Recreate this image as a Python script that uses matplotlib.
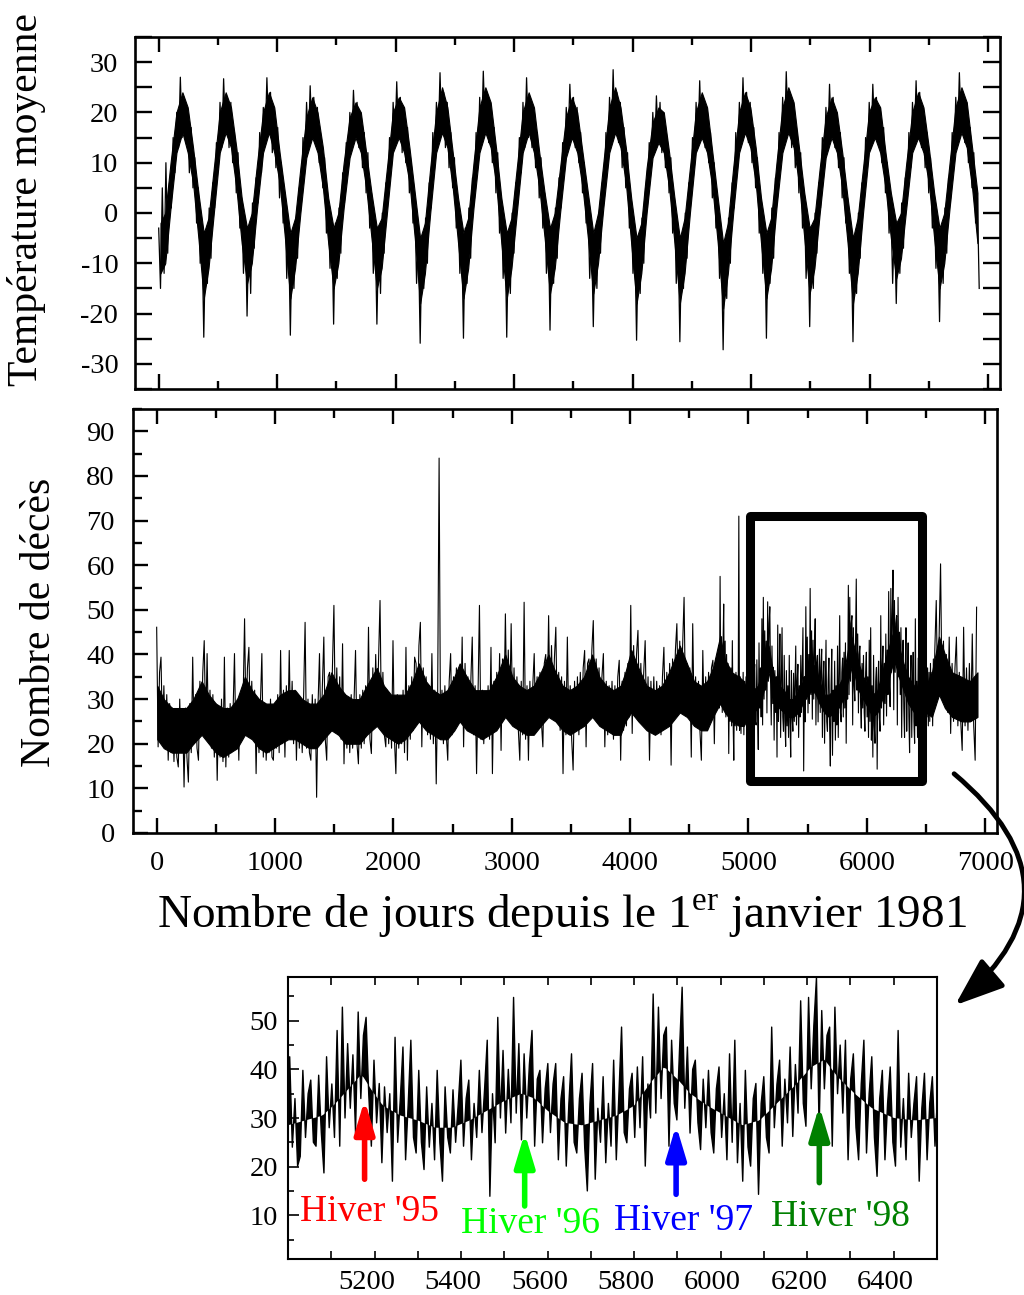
import numpy as np
import matplotlib.pyplot as plt
from matplotlib.patches import Rectangle, FancyArrowPatch
from matplotlib.ticker import MultipleLocator
import matplotlib.transforms as mtransforms

plt.rcParams['font.family'] = ['Liberation Serif', 'DejaVu Serif']
plt.rcParams['mathtext.fontset'] = 'custom'
plt.rcParams['mathtext.rm'] = 'Liberation Serif'
plt.rcParams['axes.unicode_minus'] = False

YEAR = 365.25

# %% temperature, one row per year (1981 ... 1999), 24 readings per year
temp_rows = [
    [-3, -15, 5, -12, 10, -8, 6, 1, 15, 8, 20, 13, 27, 15, 23, 14, 20, 8, 17, 5, 11, -2, 5, -10],
    [-4, -24.7, -5, -14, 1, -9, 6, 1, 14, 9, 22, 13, 26.7, 16, 23, 13, 22, 10, 16, 4, 12, -3, 3, -12],
    [-1, -20.5, -3, -16, 2, -7, 7, 2, 16, 8, 21, 14, 26.9, 16, 24, 12, 20, 9, 17, 3, 10, -2, 4, -13],
    [-3, -24.3, -4, -15, -1, -9, 5, 1, 15, 10, 22, 13, 25.3, 15, 23, 14, 21, 10, 15, 5, 11, -4, 2, -11],
    [-2, -22.1, -2, -13, 1, -8, 8, 2, 14, 9, 20, 13, 24.4, 16, 22, 13, 20, 9, 16, 4, 12, -3, 4, -12],
    [-3, -22.1, -4, -16, 0, -8, 6, 3, 15, 9, 22, 14, 26.1, 15, 23, 12, 21, 10, 17, 4, 10, -2, 3, -14],
    [-5, -25.9, -5, -15, -1, -10, 6, 1, 16, 10, 22, 14, 27.9, 16, 24, 13, 22, 9, 16, 5, 11, -3, 2, -12],
    [-4, -24.9, -3, -14, 1, -9, 7, 2, 16, 9, 23, 14, 28.2, 17, 24, 14, 21, 10, 17, 4, 12, -4, 3, -13],
    [-3, -24.7, -4, -16, 0, -8, 6, 2, 15, 8, 22, 13, 26.9, 15, 23, 13, 20, 9, 16, 3, 11, -3, 4, -12],
    [-2, -23.3, -3, -14, 1, -9, 7, 1, 14, 9, 21, 14, 25.6, 16, 23, 13, 21, 10, 16, 4, 10, -2, 3, -13],
    [-4, -22.6, -4, -15, 0, -8, 6, 2, 16, 10, 23, 14, 28.5, 16, 24, 14, 22, 9, 17, 5, 12, -3, 2, -12],
    [-5, -25.3, -5, -16, -1, -10, 5, 1, 14, 9, 20, 12, 23.3, 14, 22, 12, 20, 9, 15, 4, 11, -4, 3, -14],
    [-4, -25.6, -5, -15, 0, -9, 6, 2, 15, 9, 22, 13, 26.3, 15, 23, 13, 21, 10, 16, 3, 10, -3, 2, -13],
    [-6, -27.2, -6, -17, -1, -10, 6, 1, 16, 10, 22, 14, 26.9, 16, 24, 14, 22, 10, 17, 5, 11, -4, 3, -12],
    [-3, -24.9, -4, -14, 1, -9, 7, 2, 16, 10, 23, 14, 28.1, 17, 24, 13, 21, 9, 16, 4, 12, -3, 4, -13],
    [-3, -22.6, -4, -15, 0, -8, 6, 1, 15, 9, 21, 13, 25.6, 15, 23, 13, 20, 9, 16, 3, 11, -2, 3, -12],
    [-5, -25.6, -5, -16, 0, -9, 6, 2, 15, 9, 22, 13, 25.6, 16, 23, 14, 21, 10, 17, 4, 10, -4, 2, -14],
    [-2, -18.0, -2, -12, 2, -7, 7, 2, 16, 9, 22, 14, 26.3, 15, 24, 13, 20, 9, 16, 4, 11, -3, 4, -11],
    [-3, -21.6, -3, -14, 1, -8, 7, 2, 16, 10, 23, 14, 27.9, 17, 24, 14, 22, 10, 17, 5, 12, -2, 3, -15],
]

# dense part of the temperature trace (lower / upper edge) at fixed days of year
temp_doy = [15, 55, 100, 150, 200, 245, 290, 335]
temp_lo = [
    [-12, -10, 1, 12, 16, 12, 6, -5],
    [-17, -11, 0, 12, 16, 13, 5, -6],
    [-14, -10, 1, 12, 16, 12, 6, -5],
    [-17, -11, 0, 11, 15, 12, 5, -6],
    [-15, -10, 1, 11, 15, 12, 5, -5],
    [-15, -11, 0, 12, 15, 12, 6, -5],
    [-18, -12, 0, 12, 16, 13, 5, -6],
    [-17, -11, 1, 12, 16, 13, 6, -6],
    [-17, -11, 0, 12, 16, 12, 5, -5],
    [-16, -11, 0, 11, 15, 12, 5, -5],
    [-16, -10, 1, 12, 16, 13, 6, -6],
    [-18, -12, 0, 11, 14, 12, 5, -6],
    [-18, -12, 0, 12, 15, 12, 5, -6],
    [-19, -12, 0, 12, 16, 13, 6, -6],
    [-17, -11, 1, 12, 16, 13, 6, -5],
    [-16, -11, 0, 11, 15, 12, 5, -6],
    [-18, -12, 0, 12, 15, 12, 5, -5],
    [-13, -9, 1, 12, 15, 12, 6, -5],
    [-15, -10, 1, 12, 16, 13, 5, -6],
]
temp_hi = [
    [-2, 0, 10, 20, 24, 21, 13, 4],
    [-4, -1, 9, 20, 24, 21, 13, 3],
    [-3, 0, 10, 20, 24, 21, 12, 4],
    [-4, -1, 9, 19, 23, 20, 13, 3],
    [-3, 0, 10, 19, 22, 20, 12, 4],
    [-3, -1, 9, 20, 23, 21, 13, 4],
    [-5, -2, 9, 20, 25, 21, 12, 3],
    [-4, -1, 10, 21, 25, 22, 13, 3],
    [-4, -1, 9, 20, 24, 21, 12, 4],
    [-3, 0, 9, 19, 23, 20, 12, 4],
    [-4, 0, 10, 21, 25, 21, 13, 3],
    [-5, -2, 9, 18, 21, 20, 12, 3],
    [-5, -1, 9, 20, 24, 21, 12, 3],
    [-6, -2, 9, 20, 24, 21, 13, 3],
    [-4, -1, 10, 21, 25, 22, 13, 4],
    [-3, -1, 9, 19, 23, 20, 12, 3],
    [-5, -1, 9, 20, 23, 21, 12, 4],
    [-2, 0, 10, 20, 24, 21, 13, 4],
    [-3, 0, 10, 21, 25, 22, 13, 4],
]

# %% daily deaths, one row per year; 1994-1998 read more finely from the zoomed panel
death_rows = [
    # 1981
    [46.1, 19.3, 36, 39.4, 22, 33, 20, 31, 16.3, 29, 18, 28, 16, 27, 17,
     14.8, 30, 18, 27, 10.3, 28, 17, 11.4, 29, 18, 39.4, 20, 31, 19, 16.3],
    # 1982
    [34, 22, 36, 43.1, 23, 40.2, 21, 32, 19, 31, 17, 29, 11.8, 28, 17,
     30, 16, 39.4, 14.8, 28, 17, 29, 18, 27, 40.2, 19, 30, 16.3, 31, 21],
    # 1983
    [30, 48.0, 24, 37, 41.6, 23, 34, 21, 32, 13.3, 30, 18, 29, 40.2, 17,
     29, 16.3, 28, 18, 30, 17, 16.3, 29, 19, 31, 18, 40.9, 20, 32, 17.0],
    # 1984
    [33, 22, 40.9, 21, 34, 20, 32, 16.3, 31, 19, 30, 18, 31, 47.2, 19,
     30, 18, 16.3, 31, 19, 30, 8.0, 29, 40.2, 20, 33, 43.9, 21, 16.3, 35],
    # 1985
    [36, 24, 38, 51.0, 25, 37, 22, 35, 21, 42.4, 15.5, 31, 19, 30, 18,
     31, 19, 30, 40.9, 20, 15.5, 31, 19, 32, 20, 33, 22, 46.1, 21, 17.8],
    # 1986
    [37, 25, 40, 26, 39, 52.1, 24, 36, 22, 19.3, 32, 20, 31, 19, 43.1,
     21, 13.3, 31, 19, 30, 20, 32, 18, 41.6, 16.3, 33, 21, 35, 23, 39.4],
    # 1987
    [38, 26, 42, 47.2, 19.3, 37, 24, 35, 22, 33, 21, 40.2, 20, 32, 11.0,
     31, 84.0, 21, 32, 20, 33, 22, 16.3, 34, 40.2, 22, 35, 24, 37, 25],
    # 1988
    [37, 26, 43.9, 19.3, 38, 25, 35, 23, 34, 43.9, 22, 33, 13.3, 31, 51.0,
     21, 32, 20, 31, 22, 33, 21, 41.6, 13.3, 34, 23, 36, 25, 40.2, 18.5],
    # 1989
    [39, 27, 49.1, 28, 41, 27, 46.9, 26, 37, 24, 35, 23, 16.3, 34, 22,
     51.7, 21, 33, 16.3, 34, 22, 33, 40.2, 23, 35, 24, 36, 25, 19.3, 38],
    # 1990
    [40, 28, 48.7, 27, 42, 28, 39, 46.1, 25, 36, 23, 35, 13.3, 34, 22,
     43.9, 23, 33, 21, 14.1, 34, 23, 35, 22, 36, 24, 37, 40.9, 19.3, 38],
    # 1991
    [39, 27, 41, 47.6, 26, 39, 25, 37, 24, 35, 40.2, 19.3, 34, 22, 33,
     23, 34, 21, 33, 22, 35, 38.7, 16.3, 34, 23, 36, 24, 38, 26, 51.0],
    # 1992
    [22.3, 42, 28, 40, 45.4, 27, 38, 26, 36, 43.1, 24, 35, 16.3, 34, 23,
     35, 22, 34, 24, 33, 22, 35, 41.6, 24, 36, 25, 38, 15.2, 39, 28],
    # 1993
    [41, 46.9, 29, 43, 30, 42, 52.8, 28, 38, 26, 37, 17.0, 46.9, 25, 35,
     24, 34, 23, 16.3, 40.9, 24, 35, 23, 36, 25, 37, 38.7, 20.0, 39, 29],
    # 1994
    [42, 28, 57.5, 30, 44, 27, 41, 51.3, 29, 43, 26, 40, 27, 38, 17.8,
     36, 25, 37, 24, 43.1, 26, 16.3, 35, 24, 36, 23, 34, 25, 71.0, 23,
     35, 22.3, 33, 24, 36, 22, 34, 25, 35, 21, 33, 26, 42.6, 24, 34,
     20.1, 22.1, 39.8, 26, 35, 37.8, 25, 24.2, 38.8, 27, 18.7, 42.6, 28, 37, 26],
    # 1995
    [48.0, 24.2, 52.8, 30, 45.3, 32, 43, 26.9, 51.8, 34, 47.0, 50.7, 35, 24.2, 41.9,
     29, 37.1, 20.8, 36.4, 27, 35, 17.0, 46.6, 25, 34, 44.6, 21.4, 33, 46.0, 26,
     22.8, 39.8, 25, 19.4, 36.4, 24, 33, 21.4, 39.8, 25, 17.0, 36.4, 26, 22.8, 35.8,
     25, 33, 41.9, 24.2, 34, 37.8, 21.4, 33, 26, 39.8, 27, 36, 46.0, 13.9, 35],
    # 1996
    [24.9, 50.7, 30, 43.9, 26.9, 40, 29, 54.8, 31, 45.3, 25.5, 43.2, 30, 41, 48.0,
     24.2, 38, 39.8, 24.9, 36, 41.2, 27, 37, 41.2, 21.4, 34, 38.5, 20.1, 33, 43.2,
     25, 22.8, 34, 39.2, 24, 15.0, 33, 41.2, 17.4, 32, 25, 38.5, 20.8, 33, 24.2,
     41.9, 21.4, 35, 48.7, 27, 24.9, 36, 39.2, 26, 40.5, 28, 42.6, 20.1, 37, 30],
    # 1997
    [55.5, 31.0, 52.8, 34, 47, 48.7, 24.2, 46.0, 33, 29.6, 44, 56.9, 32, 44.6, 26.9,
     40, 41.9, 29, 23.5, 38, 28, 39.8, 27, 22.8, 36, 40.5, 26, 35, 21.4, 43.2,
     25, 46.0, 20.8, 33, 17.0, 39.8, 24, 20.1, 34, 37.1, 14.3, 33, 38.5, 26, 22.8,
     48.7, 28, 37, 41.9, 24.2, 38, 29, 44.6, 26.2, 41, 31, 54.1, 33, 28.3, 54.8],
    # 1998
    [36, 49, 58.9, 27.6, 52.1, 36, 47, 48.7, 24.2, 52.8, 35, 45, 31, 46.0, 21.4,
     38, 43.2, 28, 21.4, 37, 46.0, 22.8, 35, 42.6, 26, 18.0, 34, 39.8, 21.4, 33,
     40.5, 25, 20.1, 48.0, 24, 34, 21.4, 39.2, 26, 33, 38.5, 17.0, 32, 39.2, 21.4,
     33, 38.5, 24.2, 35, 26, 37, 24, 36, 25, 38, 27, 36, 24, 39, 28],
    # 1999
    [41, 52.1, 30, 44, 60.3, 31, 43, 29, 40, 27, 43.9, 22.3, 38, 25, 37,
     43.9, 24, 36, 25, 18.5, 46.1, 24, 37, 23, 38, 25, 44.6, 24, 16.3, 50.6],
]

# dense part of the deaths trace (lower / upper edge)
death_core_day = [5, 60, 130, 190, 250, 310,
                  380, 440, 500, 560, 620, 680,
                  745, 805, 865, 925, 985, 1045,
                  1111, 1170, 1230, 1290, 1350, 1410,
                  1476, 1535, 1595, 1655, 1715, 1775,
                  1860, 1920, 1980, 2040, 2100, 2160,
                  2215, 2275, 2335, 2395, 2455, 2515,
                  2560, 2620, 2690, 2750, 2810, 2870,
                  2945, 3005, 3065, 3125, 3185, 3245,
                  3310, 3370, 3430, 3490, 3550, 3610,
                  3680, 3740, 3800, 3860, 3920, 3960,
                  4010, 4070, 4140, 4210, 4270, 4330,
                  4420, 4480, 4540, 4600, 4650, 4700,
                  4760, 4800, 4860, 4920, 4960,
                  5000, 5040, 5080, 5110, 5140, 5170, 5195, 5220, 5260, 5300,
                  5340, 5380, 5420, 5460, 5500, 5540, 5570, 5600, 5640, 5680,
                  5720, 5760, 5800, 5840, 5870, 5900, 5930, 5970, 6010, 6050,
                  6090, 6130, 6170, 6210, 6240, 6270, 6310, 6350, 6400, 6450,
                  6500,
                  6550, 6610, 6660, 6720, 6800, 6870, 6935]
death_core_lo = [21, 19, 18, 18, 18, 20,
                 22, 20, 18, 17, 18, 19,
                 22, 21, 19, 18, 19, 20,
                 21, 21, 20, 19, 19, 21,
                 23, 22, 20, 20, 20, 22,
                 24, 22, 21, 20, 21, 23,
                 25, 23, 22, 21, 21, 23,
                 25, 23, 22, 21, 22, 23,
                 26, 24, 23, 22, 22, 24,
                 26, 25, 23, 22, 23, 24,
                 26, 24, 23, 22, 22, 25,
                 27, 25, 23, 22, 23, 24,
                 27, 26, 24, 23, 23, 26,
                 29, 27, 25, 24, 24,
                 26, 27, 28, 30, 33, 36, 33, 30, 28, 27,
                 26, 26, 27, 29, 31, 32, 31, 29, 27, 26,
                 27, 28, 30, 34, 37, 35, 32, 30, 28, 26,
                 27, 30, 33, 37, 38, 35, 32, 29, 27, 27,
                 27,
                 26, 31, 28, 26, 25, 25, 26]
death_core_hi = [33, 30, 28, 28, 28, 30,
                 34, 31, 29, 28, 28, 30,
                 35, 32, 30, 29, 29, 31,
                 32, 32, 30, 29, 29, 31,
                 36, 33, 31, 30, 30, 33,
                 37, 33, 31, 31, 31, 34,
                 38, 34, 32, 31, 32, 35,
                 38, 35, 32, 32, 32, 35,
                 40, 35, 33, 32, 33, 36,
                 40, 36, 33, 32, 33, 35,
                 40, 35, 33, 32, 33, 36,
                 41, 37, 33, 32, 33, 36,
                 42, 38, 34, 33, 34, 37,
                 44, 39, 36, 35, 34,
                 31, 32, 33, 36, 39, 42, 38, 35, 33, 32,
                 30, 30, 32, 34, 36, 38, 37, 34, 31, 31,
                 32, 33, 35, 41, 44, 41, 38, 35, 33, 31,
                 32, 36, 40, 44, 46, 42, 38, 35, 33, 32,
                 33,
                 36, 44, 40, 36, 35, 34, 36]

# zoomed window and the four winters
zoom_box = (5011, 11.7, 6465, 71.0)
hiver_labels = ["Hiver '95", "Hiver '96", "Hiver '97", "Hiver '98"]
hiver_colors = ['#ff0000', '#00ff00', '#0000ff', '#008000']
hiver_x = [5177, 5547, 5897, 6228]
hiver_tail = [17.4, 11.9, 14.3, 16.7]
hiver_tip = [33.7, 26.9, 28.5, 32.5]
hiver_text_x = [5027, 5400, 5754, 6116]
hiver_text_y = [10.8, 8.2, 8.8, 9.6]


def by_year(rows):
    days, vals = [], []
    for k, row in enumerate(rows):
        n = len(row)
        days.extend(YEAR * k + np.arange(n) * YEAR / n)
        vals.extend(row)
    return np.array(days), np.array(vals, dtype=float)


t_days, t_vals = by_year(temp_rows)
d_days, d_vals = by_year(death_rows)

tc_days = np.array([YEAR * k + d for k in range(len(temp_lo)) for d in temp_doy])
tc_lo = np.array(sum(temp_lo, []), dtype=float)
tc_hi = np.array(sum(temp_hi, []), dtype=float)

# middle of the dense part, used to shade the zoomed trace towards it
core_mid = (np.array(death_core_lo) + np.array(death_core_hi)) / 2
d_centre = np.interp(d_days, death_core_day, core_mid)

fig = plt.figure(figsize=(10.24, 12.95), dpi=100)
W, H = 1024, 1295


def px_axes(left, top, right, bottom):
    return fig.add_axes([left / W, 1 - bottom / H, (right - left) / W, (bottom - top) / H])


# %% top panel
ax1 = px_axes(135, 37, 1000, 389)
ax1.fill_between(tc_days, tc_lo, tc_hi, color='black', lw=0.8)
ax1.plot(t_days, t_vals, color='black', lw=0.9)
ax1.set_xlim(-200, 7100)
ax1.set_ylim(-35, 35)
ax1.xaxis.set_major_locator(MultipleLocator(1000))
ax1.xaxis.set_minor_locator(MultipleLocator(500))
ax1.yaxis.set_major_locator(MultipleLocator(10))
ax1.yaxis.set_minor_locator(MultipleLocator(5))
ax1.tick_params(which='both', direction='in', top=True, right=True,
                labelbottom=False, width=1.7, labelsize=20.5, pad=12)
ax1.tick_params(axis='x', which='major', length=11)
ax1.tick_params(axis='x', which='minor', length=6)
ax1.tick_params(axis='y', which='both', length=12)
for s in ax1.spines.values():
    s.set_linewidth(1.9)

# %% middle panel
ax2 = px_axes(133, 409, 997, 833)
ax2.fill_between(death_core_day, death_core_lo, death_core_hi, color='black', lw=0.8)
ax2.plot(d_days, d_vals, color='black', lw=0.8)
ax2.set_xlim(-200, 7100)
ax2.set_ylim(0, 95)
ax2.xaxis.set_major_locator(MultipleLocator(1000))
ax2.xaxis.set_minor_locator(MultipleLocator(500))
ax2.yaxis.set_major_locator(MultipleLocator(10))
ax2.yaxis.set_minor_locator(MultipleLocator(5))
ax2.tick_params(which='both', direction='in', top=True, right=False,
                width=1.7, labelsize=20.5, pad=13)
ax2.tick_params(which='major', length=11)
ax2.tick_params(which='minor', length=6.5)
for s in ax2.spines.values():
    s.set_linewidth(1.9)

x0, y0, x1, y1 = zoom_box
ax2.add_patch(Rectangle((x0, y0), x1 - x0, y1 - y0, fill=False, ec='black',
                        lw=6.5, joinstyle='round', zorder=5))

# %% zoomed panel
ax3 = px_axes(288, 977, 937, 1259)
ax3.fill_between(d_days, d_vals, d_centre, color='black', lw=0)
ax3.plot(d_days, d_vals, color='black', lw=1.0)
ax3.set_xlim(5000, 6500)
ax3.set_ylim(1, 59)
ax3.set_xticks([5200, 5400, 5600, 5800, 6000, 6200, 6400])
ax3.xaxis.set_minor_locator(MultipleLocator(100))
ax3.set_yticks([10, 20, 30, 40, 50])
ax3.yaxis.set_minor_locator(MultipleLocator(5))
ax3.tick_params(which='both', direction='in', top=True, right=False,
                width=1.2, labelsize=20.5)
ax3.tick_params(axis='x', which='both', length=6, pad=8)
ax3.tick_params(axis='y', which='major', length=8, pad=7)
ax3.tick_params(axis='y', which='minor', length=4)
for s in ax3.spines.values():
    s.set_linewidth(1.5)
shift = mtransforms.ScaledTranslation(-8 / 100, 0, fig.dpi_scale_trans)
for lbl in ax3.get_xticklabels():
    lbl.set_transform(lbl.get_transform() + shift)

for lab, c, x, ta, tb, tx, ty in zip(hiver_labels, hiver_colors, hiver_x, hiver_tail,
                                      hiver_tip, hiver_text_x, hiver_text_y):
    ax3.annotate('', xy=(x, tb), xytext=(x, ta),
                 arrowprops=dict(arrowstyle='-|>,head_length=1.0,head_width=0.3',
                                 mutation_scale=20, lw=4, color=c,
                                 shrinkA=0, shrinkB=0, capstyle='round'))
    ax3.text(tx, ty, lab, color=c, fontsize=27, ha='left', va='center')

# %% labels and connecting arrow
fig.text(27 / W, 1 - 200 / H, 'Température moyenne', rotation=90,
         ha='center', va='center', fontsize=30)
fig.text(40 / W, 1 - 622 / H, 'Nombre de décès', rotation=90,
         ha='center', va='center', fontsize=30)
fig.text(562 / W, 1 - 916 / H, r'Nombre de jours depuis le 1$^{\mathrm{er}}$ janvier 1981',
         ha='center', va='center', fontsize=34)

link = FancyArrowPatch((952 / W, 1 - 772 / H), (953 / W, 1 - 1007 / H),
                       transform=fig.transFigure,
                       connectionstyle='arc3,rad=-0.6',
                       arrowstyle='-|>,head_length=1.2,head_width=0.45',
                       mutation_scale=25, lw=3.5, color='black')
fig.add_artist(link)

fig.savefig('out.png', dpi=100)
